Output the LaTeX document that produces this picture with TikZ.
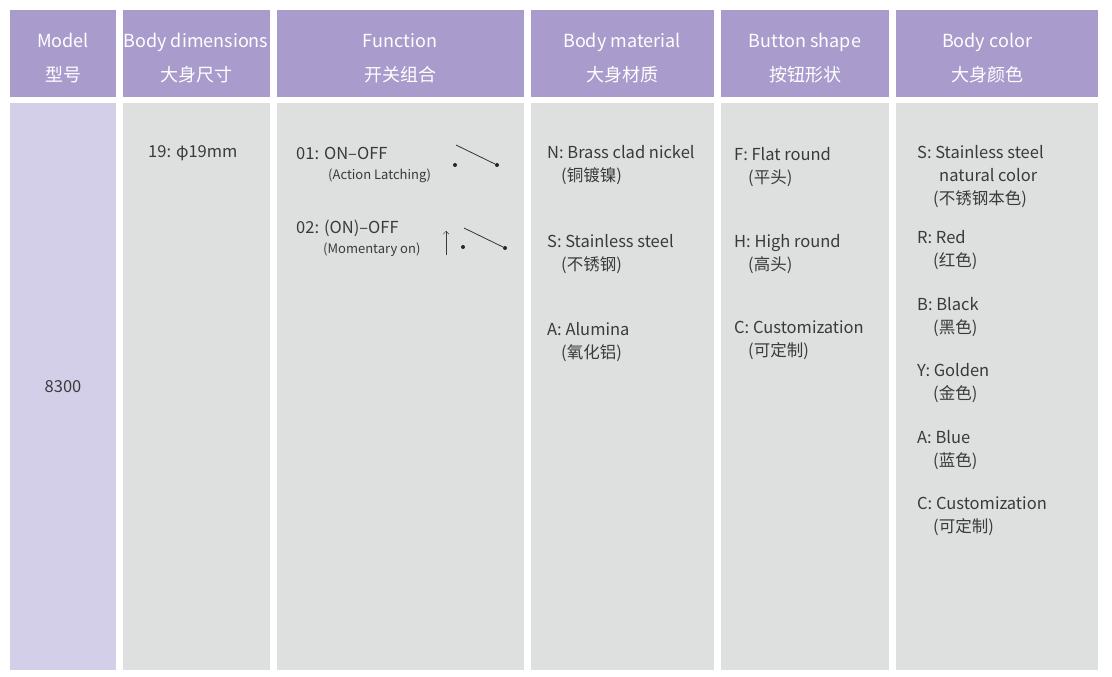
\documentclass[tikz,border=0pt]{standalone}
\usepackage{fontspec}
\setmainfont{Noto Sans CJK SC}
\usetikzlibrary{arrows.meta}
\definecolor{headbg}{HTML}{A99CCC}
\definecolor{modelbg}{HTML}{D3CFE8}
\definecolor{cellbg}{HTML}{DDE0DF}
\definecolor{txt}{HTML}{3A3A3A}
\tikzstyle{head}=[text=white, align=center, font=\fontsize{18}{34}\selectfont]
\tikzstyle{item}=[text=txt, anchor=west, align=left, inner sep=0pt, font=\fontsize{16.5}{23}\selectfont]
\tikzstyle{note}=[text=txt, anchor=west, inner sep=0pt, font=\fontsize{13}{16}\selectfont]
\tikzstyle{pin}=[circle, fill=black!85, inner sep=0pt, minimum size=4pt]
\begin{document}
\begin{tikzpicture}[x=1pt, y=-1pt]
\useasboundingbox (0,0) rectangle (1112,677);
\fill[white] (0,0) rectangle (1112,677);
% columns
\foreach \a/\b/\c in {10/116/modelbg, 123/270/cellbg, 277/524/cellbg, 531/714/cellbg, 721/889/cellbg, 896/1098/cellbg} {
  \fill[headbg] (\a,10) rectangle (\b,97);
  \fill[\c] (\a,103) rectangle (\b,670);
}
% headers
\node [head] (h1) at (63,58) {Model\\型号};
\node [head] (h2) at (196,58) {Body dimensions\\大身尺寸};
\node [head] (h3) at (400,58) {Function\\开关组合};
\node [head] (h4) at (622,58) {Body material\\大身材质};
\node [head] (h5) at (805,58) {Button shape\\按钮形状};
\node [head] (h6) at (987,58) {Body color\\大身颜色};
% model
\node [item, anchor=center] (model) at (63,387) {8300};
% dimensions
\node [item] (dim) at (148,153) {19: φ19mm};
% function
\node [item] (f1) at (296,153) {01: ON–OFF};
\node [note] (f1n) at (328,176) {(Action Latching)};
\node [item] (f2) at (296,228) {02: (ON)–OFF};
\node [note] (f2n) at (323,250) {(Momentary on)};
\node [pin] (a1) at (455,165) {};
\node [pin] (b1) at (497,165) {};
\coordinate (t1) at (456,145);
\draw [black!80, thick] (t1) -- (b1);
\node [pin] (a2) at (463,247) {};
\node [pin] (b2) at (505,248) {};
\coordinate (t2) at (464,228);
\draw [black!80, thick] (t2) -- (b2);
\coordinate (u1) at (446,255);
\coordinate (u2) at (446,231);
\draw [txt, -{Straight Barb[length=3pt]}] (u1) -- (u2);
% material
\node [item] (m1) at (547,165) {N: Brass clad nickel\\\hspace{14pt}(铜镀镍)};
\node [item] (m2) at (547,254) {S: Stainless steel\\\hspace{14pt}(不锈钢)};
\node [item] (m3) at (547,342) {A: Alumina\\\hspace{14pt}(氧化铝)};
% button
\node [item] (b1t) at (734,167) {F: Flat round\\\hspace{14pt}(平头)};
\node [item] (b2t) at (734,254) {H: High round\\\hspace{14pt}(高头)};
\node [item] (b3t) at (734,340) {C: Customization\\\hspace{14pt}(可定制)};
% color
\node [item] (c1) at (917,177) {S: Stainless steel\\\hspace{22pt}natural color\\\hspace{16pt}(不锈钢本色)};
\node [item] (c2) at (917,250) {R: Red\\\hspace{16pt}(红色)};
\node [item] (c3) at (917,317) {B: Black\\\hspace{16pt}(黑色)};
\node [item] (c4) at (917,383) {Y: Golden\\\hspace{16pt}(金色)};
\node [item] (c5) at (917,450) {A: Blue\\\hspace{16pt}(蓝色)};
\node [item] (c6) at (917,516) {C: Customization\\\hspace{16pt}(可定制)};
\end{tikzpicture}
\end{document}
